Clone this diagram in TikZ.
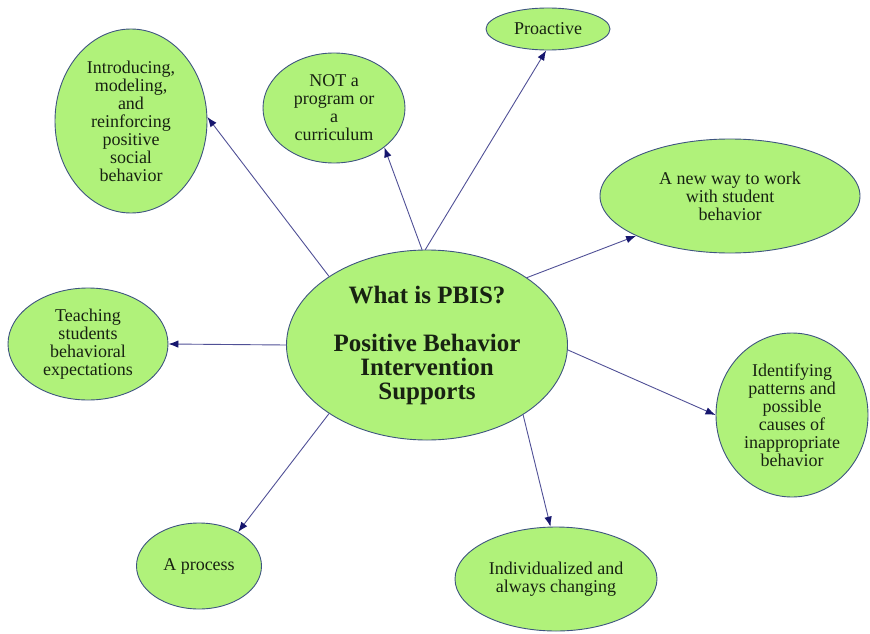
\documentclass[tikz,border=0pt]{standalone}
\usepackage{fontspec}
\setmainfont{Liberation Serif}
\usepackage{tikz}
\usetikzlibrary{arrows.meta, shapes.geometric, positioning}
\definecolor{bubblegreen}{RGB}{176,242,122}
\definecolor{rimblue}{RGB}{62,84,128}
\definecolor{linkblue}{RGB}{80,80,150}
\definecolor{tipnavy}{RGB}{22,22,110}
\definecolor{inkdark}{RGB}{24,34,18}

\tikzset{
	bubble/.style={ellipse, draw=rimblue, line width=0.9pt, fill=bubblegreen,
		inner sep=0pt, align=center, text=inkdark,
		font=\fontsize{18}{18}\selectfont},
	hub/.style={bubble, font=\fontsize{25}{24}\selectfont\bfseries},
	link/.style={draw=linkblue, line width=0.9pt,
		-{Latex[length=10pt, width=7.5pt, color=tipnavy, fill=tipnavy]}}
}

\begin{document}
\begin{tikzpicture}[x=1pt, y=-1pt, line cap=round, line join=round]
	\useasboundingbox (0,0) rectangle (870,634);

	% centre of the map
	\node[hub, minimum width=281pt, minimum height=190pt] (pbis) at (427,345)
		{What is PBIS?\\[24pt]Positive Behavior\\Intervention\\Supports};

	% surrounding ideas
	\node[bubble, minimum width=152pt, minimum height=184pt] (intro) at (131,121)
		{Introducing,\\modeling,\\and\\reinforcing\\positive\\social\\behavior};
	\node[bubble, minimum width=142pt, minimum height=110pt] (notprog) at (334,108)
		{NOT a\\program or\\a\\curriculum};
	\node[bubble, minimum width=124pt, minimum height=42pt] (proactive) at (548,29)
		{Proactive};
	\node[bubble, minimum width=260pt, minimum height=114pt] (newway) at (730,196)
		{A new way to work\\with student\\behavior};
	\node[bubble, minimum width=160pt, minimum height=112pt] (teach) at (88,344)
		{Teaching\\students\\behavioral\\expectations};
	\node[bubble, minimum width=152pt, minimum height=164pt] (identify) at (792,415)
		{Identifying\\patterns and\\possible\\causes of\\inappropriate\\behavior};
	\node[bubble, minimum width=125pt, minimum height=86pt] (process) at (199,566)
		{A process};
	\node[bubble, minimum width=202pt, minimum height=104pt] (individ) at (556,579)
		{Individualized and\\always changing};

	% connectors
	\draw[link] (pbis.145) -- (intro.3);
	\draw[link] (pbis.93) -- (notprog.-38);
	\draw[link] (pbis.91) -- (proactive.265);
	\draw[link] (pbis.34) -- (newway.203);
	\draw[link] (pbis.180) -- (teach.0);
	\draw[link] (pbis.-2) -- (identify.180);
	\draw[link] (pbis.215) -- (process.41);
	\draw[link] (pbis.324) -- (individ.96);
\end{tikzpicture}
\end{document}
